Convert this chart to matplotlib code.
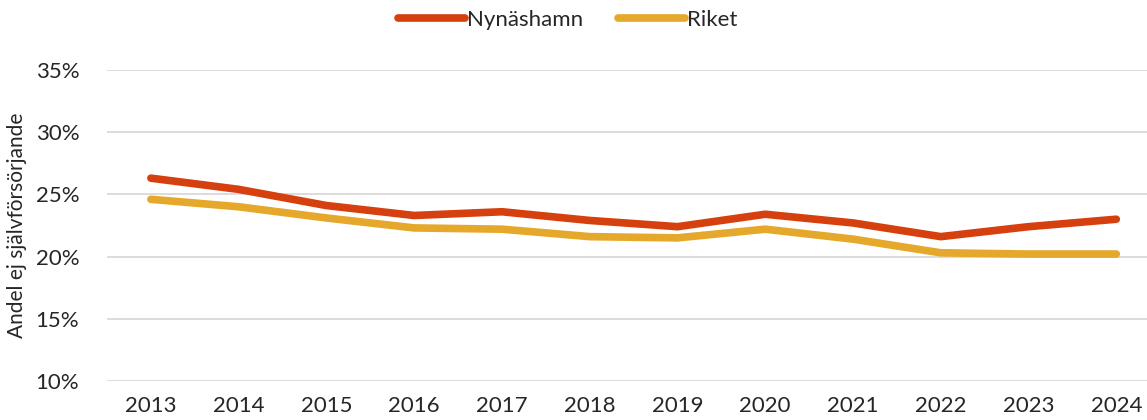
import matplotlib.pyplot as plt
from matplotlib.ticker import FuncFormatter

years = ["2013", "2014", "2015", "2016", "2017", "2018",
         "2019", "2020", "2021", "2022", "2023", "2024"]
nynashamn = [26.3, 25.4, 24.1, 23.3, 23.6, 22.9, 22.4, 23.4, 22.7, 21.6, 22.4, 23.0]
riket = [24.6, 24.0, 23.1, 22.3, 22.2, 21.6, 21.5, 22.2, 21.4, 20.3, 20.2, 20.2]

plt.rcParams["font.family"] = ["Lato", "DejaVu Sans"]
plt.rcParams["font.weight"] = "normal"

fig = plt.figure(figsize=(11.47, 4.2), dpi=100)
ax = fig.add_axes([0.0933, 0.093, 0.9067, 0.7405])

x = range(len(years))
ax.plot(x, nynashamn, color="#D63F0E", lw=5.5, solid_capstyle="round",
        solid_joinstyle="round", label="Nynäshamn")
ax.plot(x, riket, color="#E5A82A", lw=5.5, solid_capstyle="round",
        solid_joinstyle="round", label="Riket")

ax.set_ylim(10, 35)
ax.set_yticks(range(10, 36, 5))
ax.yaxis.set_major_formatter(FuncFormatter(lambda v, p: f"{v:.0f}%"))
ax.set_xlim(-0.5, 11.35)
ax.set_xticks(list(x))
ax.set_xticklabels(years)
ax.grid(axis="y", color="#D9D9D9", lw=1.3)
ax.set_axisbelow(True)
for s in ax.spines.values():
    s.set_visible(False)
ax.tick_params(length=0, labelsize=16, labelcolor="#262626", pad=11)
ax.tick_params(axis="y", pad=20)

ax.set_ylabel("Andel ej självförsörjande", fontsize=15, color="#262626", labelpad=6)

fig.legend(loc="upper center", bbox_to_anchor=(0.495, 1.025), ncol=2, frameon=False,
           fontsize=16, handlelength=3.0, handletextpad=0.1, columnspacing=1.6,
           labelcolor="#262626")

fig.savefig("out.png", dpi=100)
